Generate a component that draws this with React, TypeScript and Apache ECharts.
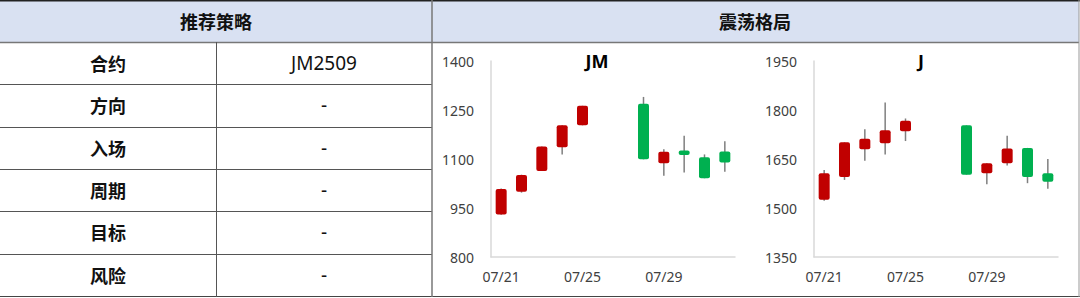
import React, { useEffect, useRef } from "react";
import * as echarts from "echarts";

// ---- Data ----
const dates = ["07/21", "07/22", "07/23", "07/24", "07/25", "07/26", "07/27", "07/28", "07/29", "07/30", "07/31", "08/01"];

const jmOpen = [930, 1000, 1063, 1136, 1203, null, null, 1269, 1087, 1126, 1105, 1123];
const jmClose = [1008, 1051, 1138, 1203, 1263, null, null, 1099, 1122, 1112, 1041, 1089];
const jmLow = [929, 997, 1063, 1114, 1203, null, null, 1099, 1049, 1059, 1041, 1061];
const jmHigh = [1010, 1052, 1138, 1203, 1263, null, null, 1290, 1130, 1171, 1114, 1154];

const jOpen = [1525, 1595, 1680, 1698, 1735, null, null, 1753, 1606, 1637, 1684, 1606];
const jClose = [1606, 1701, 1712, 1738, 1767, null, null, 1602, 1637, 1682, 1595, 1580];
const jLow = [1522, 1586, 1645, 1664, 1705, null, null, 1602, 1573, 1630, 1576, 1559];
const jHigh = [1616, 1701, 1741, 1823, 1774, null, null, 1753, 1637, 1721, 1684, 1650];

const jmTicks = [800, 950, 1100, 1250, 1400];
const jTicks = [1350, 1500, 1650, 1800, 1950];

const headerLeft = "推荐策略";
const headerRight = "震荡格局";
const rowLabels = ["合约", "方向", "入场", "周期", "目标", "风险"];
const rowValues = ["JM2509", "-", "-", "-", "-", "-"];

const UP = "#C00000";
const DOWN = "#00B050";
const WICK = "#7F7F7F";
const FONT = "'Noto Sans CJK SC', 'Noto Sans', sans-serif";
const LATIN = "'Noto Sans', 'Noto Sans CJK SC', sans-serif";

function buildData(o: (number | null)[], c: (number | null)[], l: (number | null)[], h: (number | null)[]) {
  const out: number[][] = [];
  for (let i = 0; i < o.length; i++) {
    if (o[i] == null) continue;
    out.push([i, o[i] as number, c[i] as number, l[i] as number, h[i] as number]);
  }
  return out;
}

const renderCandle = (params: any, api: any) => {
  const x = api.value(0);
  const open = api.value(1);
  const close = api.value(2);
  const low = api.value(3);
  const high = api.value(4);
  const pH = api.coord([x, high]);
  const pL = api.coord([x, low]);
  const pO = api.coord([x, open]);
  const pC = api.coord([x, close]);
  const w = 11;
  const top = Math.min(pO[1], pC[1]);
  const hgt = Math.max(Math.abs(pO[1] - pC[1]), 1);
  return {
    type: "group",
    children: [
      {
        type: "line",
        shape: { x1: pH[0], y1: pH[1], x2: pL[0], y2: pL[1] },
        style: { stroke: WICK, lineWidth: 1.5 },
      },
      {
        type: "rect",
        shape: { x: pO[0] - w / 2, y: top, width: w, height: hgt, r: 2 },
        style: { fill: close >= open ? UP : DOWN },
      },
    ],
  };
};

export default function App() {
  const ref = useRef<HTMLDivElement>(null);

  useEffect(() => {
    if (!ref.current) return;
    const chart = echarts.init(ref.current, undefined, { renderer: "svg" });

    const rowTop = 42;
    const rowH = 42.3;
    const graphics: any[] = [];
    graphics.push({ type: "rect", shape: { x: 0, y: 0, width: 1079, height: 42 }, style: { fill: "#D9E1F2" }, z: 0 });
    graphics.push({ type: "line", shape: { x1: 0, y1: 0.75, x2: 1080, y2: 0.75 }, style: { stroke: "#222", lineWidth: 1.5 } });
    graphics.push({ type: "line", shape: { x1: 0, y1: 42.5, x2: 1079, y2: 42.5 }, style: { stroke: "#777", lineWidth: 1.5 } });
    for (let i = 1; i < rowLabels.length; i++) {
      const y = Math.round(rowTop + rowH * i) + 0.5;
      graphics.push({ type: "line", shape: { x1: 0, y1: y, x2: 432, y2: y }, style: { stroke: "#555", lineWidth: 1 } });
    }
    graphics.push({ type: "line", shape: { x1: 0, y1: 296.5, x2: 1080, y2: 296.5 }, style: { stroke: "#444", lineWidth: 1.2 } });
    graphics.push({ type: "line", shape: { x1: 216.5, y1: 42, x2: 216.5, y2: 297 }, style: { stroke: "#555", lineWidth: 1 } });
    graphics.push({ type: "line", shape: { x1: 432, y1: 0, x2: 432, y2: 297 }, style: { stroke: "#777", lineWidth: 1.5 } });
    graphics.push({ type: "line", shape: { x1: 1079, y1: 0, x2: 1079, y2: 297 }, style: { stroke: "#999", lineWidth: 1 } });
    graphics.push({
      type: "text", x: 216, y: 21,
      style: { text: headerLeft, font: `bold 18px ${FONT}`, fill: "#111", align: "center", verticalAlign: "middle" },
    });
    graphics.push({
      type: "text", x: 755, y: 21,
      style: { text: headerRight, font: `bold 18px ${FONT}`, fill: "#111", align: "center", verticalAlign: "middle" },
    });
    rowLabels.forEach((lab, i) => {
      const cy = rowTop + rowH * i + rowH / 2;
      graphics.push({
        type: "text", x: 108, y: cy,
        style: { text: lab, font: `bold 18px ${FONT}`, fill: "#111", align: "center", verticalAlign: "middle" },
      });
      graphics.push({
        type: "text", x: 324, y: cy,
        style: { text: rowValues[i], font: `19px ${LATIN}`, fill: "#111", align: "center", verticalAlign: "middle" },
      });
    });

    const xAxisBase = (gi: number) => ({
      type: "category",
      gridIndex: gi,
      data: dates,
      boundaryGap: true,
      axisLine: { show: true, lineStyle: { color: "#D9D9D9", width: 1.5 } },
      axisTick: { show: false },
      axisLabel: { interval: 3, color: "#404040", fontSize: 14, margin: 12, fontFamily: LATIN },
      splitLine: { show: false },
    });
    const yAxisBase = (gi: number, ticks: number[]) => ({
      type: "value",
      gridIndex: gi,
      min: ticks[0],
      max: ticks[ticks.length - 1],
      axisLine: { show: true, lineStyle: { color: "#D9D9D9", width: 1.5 } },
      axisTick: { show: false },
      splitLine: { show: false },
      axisLabel: {
        customValues: ticks,
        formatter: (v: number) => String(v),
        color: "#404040",
        fontSize: 14,
        margin: 17,
        fontFamily: LATIN,
      },
    });

    chart.setOption({
      animation: false,
      backgroundColor: "#fff",
      title: [
        { text: "JM", left: 592, top: 47, textAlign: "center", textStyle: { fontSize: 18, fontWeight: "bold", color: "#000", fontFamily: LATIN } },
        { text: "J", left: 916, top: 47, textAlign: "center", textStyle: { fontSize: 18, fontWeight: "bold", color: "#000", fontFamily: LATIN } },
      ],
      grid: [
        { left: 491, width: 244, top: 61, height: 196 },
        { left: 814, width: 244, top: 61, height: 196 },
      ],
      xAxis: [xAxisBase(0), xAxisBase(1)],
      yAxis: [yAxisBase(0, jmTicks), yAxisBase(1, jTicks)],
      graphic: graphics,
      series: [
        {
          type: "custom",
          name: "JM",
          xAxisIndex: 0,
          yAxisIndex: 0,
          renderItem: renderCandle,
          encode: { x: 0, y: [1, 2, 3, 4] },
          data: buildData(jmOpen, jmClose, jmLow, jmHigh),
        },
        {
          type: "custom",
          name: "J",
          xAxisIndex: 1,
          yAxisIndex: 1,
          renderItem: renderCandle,
          encode: { x: 0, y: [1, 2, 3, 4] },
          data: buildData(jOpen, jClose, jLow, jHigh),
        },
      ],
    });

    return () => chart.dispose();
  }, []);

  return (
    <div
      ref={ref}
      style={{ position: "absolute", left: 0, top: 0, width: 1080, height: 298 }}
    />
  );
}
